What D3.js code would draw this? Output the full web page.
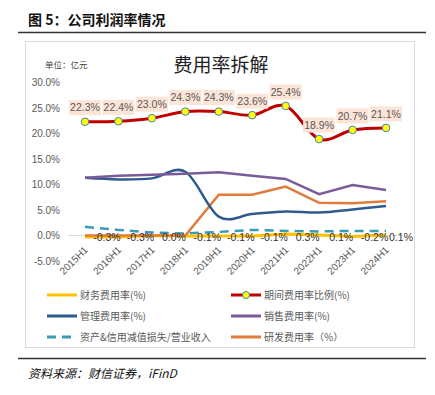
<!DOCTYPE html>
<html>
<head>
<meta charset="utf-8">
<script src="https://cdnjs.cloudflare.com/ajax/libs/d3/7.8.5/d3.min.js"></script>
<style>
  body { margin: 0; background: #fff; }
  svg { display: block; }
</style>
</head>
<body>
<svg id="chart" width="435" height="395"></svg>
<script>
// 数据
const periods = ["2015H1", "2016H1", "2017H1", "2018H1", "2019H1", "2020H1", "2021H1", "2022H1", "2023H1", "2024H1"];
const financeRate = [-0.3, -0.3, 0.0, -0.1, -0.1, -0.1, 0.3, 0.1, -0.2, 0.1];   // 财务费用率
const periodRate  = [22.3, 22.4, 23.0, 24.3, 24.3, 23.6, 25.4, 18.9, 20.7, 21.1]; // 期间费用率比例
const adminRate   = [11.3, 11.0, 11.2, 12.5, 3.7, 4.2, 4.7, 4.5, 5.1, 5.8];       // 管理费用率
const salesRate   = [11.3, 11.7, 11.9, 12.1, 12.4, 11.7, 11.1, 8.1, 9.9, 8.9];     // 销售费用率
const impairRate  = [1.7, 1.1, 0.6, 0.4, 0.7, 1.1, 0.9, 0.8, 0.9, 0.9];           // 资产&信用减值损失/营业收入
const rdRate      = [0, 0, 0, 0, 8.0, 8.0, 9.6, 6.4, 6.3, 6.7];                   // 研发费用率
const yTicks = [-5, 0, 5, 10, 15, 20, 25, 30];

const svg = d3.select("#chart");
const font = "'Liberation Sans', Arial, sans-serif";
const cjk = "'Noto Sans CJK SC', sans-serif";

// 页眉
svg.append("text").attr("x", 28).attr("y", 25)
  .attr("font-family", cjk).attr("font-weight", "bold").attr("font-size", 14)
  .attr("fill", "#111").text("图 5：公司利润率情况");
svg.append("line").attr("x1", 18).attr("x2", 426).attr("y1", 32.5).attr("y2", 32.5)
  .attr("stroke", "#333").attr("stroke-width", 1.5);

// 图表边框
svg.append("rect").attr("x", 25.5).attr("y", 41.5).attr("width", 389).attr("height", 306)
  .attr("fill", "#fff").attr("stroke", "#d9d9d9");

svg.append("text").attr("x", 221).attr("y", 72).attr("text-anchor", "middle")
  .attr("font-family", cjk).attr("font-size", 19).attr("fill", "#222").text("费用率拆解");
svg.append("text").attr("x", 45).attr("y", 68)
  .attr("font-family", cjk).attr("font-size", 8.5).attr("fill", "#404040").text("单位：亿元");

// 比例尺
const x = d3.scalePoint().domain(periods).range([85, 386]);
const y = d3.scaleLinear().domain([-5, 30]).range([261, 82.5]);
const half = x.step() / 2;

// Y 轴
const yAxis = svg.append("g").attr("transform", "translate(62,0)")
  .call(d3.axisLeft(y).tickValues(yTicks).tickSize(0).tickPadding(2)
    .tickFormat(d => d.toFixed(1) + "%"));
yAxis.select(".domain").remove();
yAxis.selectAll("text").attr("font-family", font).attr("font-size", 10).attr("fill", "#595959");

// 零线
svg.append("line").attr("x1", x(periods[0]) - half).attr("x2", x(periods[9]) + half)
  .attr("y1", y(0)).attr("y2", y(0)).attr("stroke", "#d9d9d9");

// X 轴标签
const xAxis = svg.append("g").attr("transform", `translate(0,${y(0)})`)
  .call(d3.axisBottom(x).tickSize(0).tickPadding(0));
xAxis.select(".domain").remove();
xAxis.selectAll("text")
  .attr("font-family", font).attr("font-size", 10).attr("fill", "#595959")
  .attr("text-anchor", "end").attr("dy", 0)
  .attr("transform", "translate(3,15) rotate(-45)");

// 线条
const smooth = d3.line().x((d, i) => x(periods[i])).y(d => y(d)).curve(d3.curveCatmullRom.alpha(0));
const straight = d3.line().x((d, i) => x(periods[i])).y(d => y(d));

const series = [
  { data: impairRate, color: "#3a9bb8", width: 2.5, dash: "9,6", gen: straight },
  { data: financeRate, color: "#ffc000", width: 3, gen: straight },
  { data: rdRate, color: "#e07b39", width: 2.5, gen: straight },
  { data: adminRate, color: "#2f5a8f", width: 2.5, gen: smooth },
  { data: salesRate, color: "#7a5b99", width: 2.5, gen: straight },
  { data: periodRate, color: "#c00000", width: 3, gen: smooth }
];
series.forEach(s => {
  svg.append("path").attr("d", s.gen(s.data)).attr("fill", "none")
    .attr("stroke", s.color).attr("stroke-width", s.width)
    .attr("stroke-dasharray", s.dash || null);
});

// 期间费用率标记与标签
svg.append("g").selectAll("circle").data(periodRate).join("circle")
  .attr("cx", (d, i) => x(periods[i])).attr("cy", d => y(d)).attr("r", 3.8)
  .attr("fill", "#ffff00").attr("stroke", "#4a7ebb").attr("stroke-width", 1);

const labels = svg.append("g").selectAll("g").data(periodRate).join("g")
  .attr("transform", (d, i) => `translate(${x(periods[i])},${y(d) - 14})`);
labels.append("rect").attr("x", -16).attr("y", -7.5).attr("width", 32).attr("height", 15)
  .attr("fill", "#fce4d6");
labels.append("text").attr("text-anchor", "middle").attr("dy", "0.35em")
  .attr("font-family", font).attr("font-size", 10.5).attr("fill", "#595959")
  .text(d => d.toFixed(1) + "%");

// 财务费用率标签
svg.append("g").selectAll("text").data(financeRate).join("text")
  .attr("x", (d, i) => x(periods[i]) + (i === 9 ? 15 : 22))
  .attr("y", y(0) + 2).attr("dy", "0.35em").attr("text-anchor", "middle")
  .attr("font-family", font).attr("font-size", 10.5).attr("fill", "#333")
  .text(d => d.toFixed(1) + "%");

// 图例
const legendItems = [
  { name: "财务费用率(%)", color: "#ffc000", col: 0, row: 0 },
  { name: "期间费用率比例(%)", color: "#c00000", col: 1, row: 0, marker: true },
  { name: "管理费用率(%)", color: "#2f5a8f", col: 0, row: 1 },
  { name: "销售费用率(%)", color: "#7a5b99", col: 1, row: 1 },
  { name: "资产&信用减值损失/营业收入", color: "#3a9bb8", col: 0, row: 2, dash: "9,6" },
  { name: "研发费用率（%）", color: "#e07b39", col: 1, row: 2 }
];
const legend = svg.append("g").selectAll("g").data(legendItems).join("g")
  .attr("transform", d => `translate(${d.col ? 231 : 47},${295 + d.row * 21})`);
legend.append("line").attr("x1", 0).attr("x2", 30).attr("y1", 0).attr("y2", 0)
  .attr("stroke", d => d.color).attr("stroke-width", 3)
  .attr("stroke-dasharray", d => d.dash || null);
legend.filter(d => d.marker).append("circle").attr("cx", 15).attr("r", 3.5)
  .attr("fill", "#ffff00").attr("stroke", "#4a7ebb");
legend.append("text").attr("x", 33).attr("dy", "0.35em")
  .attr("font-family", cjk).attr("font-size", 10).attr("fill", "#595959")
  .text(d => d.name);

// 页脚
svg.append("line").attr("x1", 18).attr("x2", 426).attr("y1", 358.5).attr("y2", 358.5)
  .attr("stroke", "#333").attr("stroke-width", 1.5);
svg.append("text").attr("x", 28).attr("y", 378)
  .attr("font-family", cjk).attr("font-style", "italic").attr("font-size", 12)
  .attr("fill", "#111").text("资料来源：财信证券，iFinD");
</script>
</body>
</html>
